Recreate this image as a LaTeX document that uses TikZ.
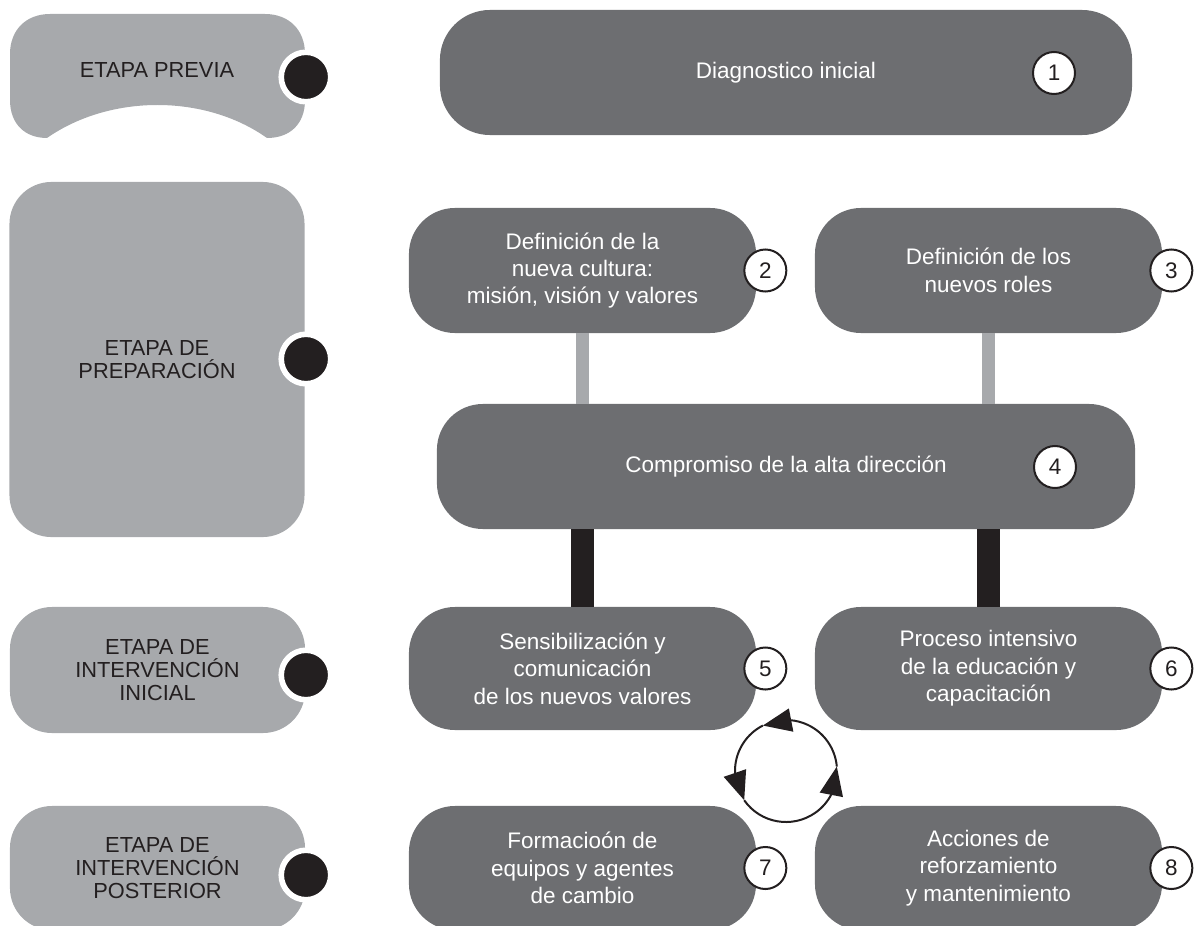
\documentclass[tikz,border=0pt]{standalone}
\usepackage{fontspec}
\setmainfont{Liberation Sans}
\usetikzlibrary{positioning,calc,arrows.meta,bending}
\definecolor{stagegray}{HTML}{A7A9AC}
\definecolor{stepgray}{HTML}{6D6E71}
\definecolor{ink}{HTML}{231F20}

\begin{document}
\begin{tikzpicture}[
	x=0.025cm, y=-0.025cm,
	stage box/.style={fill=stagegray, rounded corners=1.05cm, minimum width=7.375cm,
		align=center, text=ink, inner sep=0pt, font=\fontsize{15.5}{16.5}\selectfont},
	step box/.style={fill=stepgray, rounded corners=1.15cm, minimum width=8.675cm,
		minimum height=3.125cm, align=center, text=white, inner sep=0pt,
		font=\fontsize{16}{19.5}\selectfont},
	step number/.style={circle, draw=ink, line width=0.05cm, fill=white, text=ink,
		minimum size=1.05cm, inner sep=0pt, font=\fontsize{16}{16}\selectfont},
	stage dot/.style={circle, draw=white, line width=0.14cm, fill=ink,
		minimum size=1.2375cm, inner sep=0pt},
	soft link/.style={stagegray, line width=0.325cm},
	hard link/.style={ink, line width=0.575cm},
	cycle arrow/.style={ink, line width=0.05cm, -{Triangle[length=0.72cm, width=0.58cm]}}
	]
	\useasboundingbox (0,0) rectangle (1196,926);
	% stages
	\fill[stagegray] (10,54) .. controls (10,30) and (26,14) .. (50,14) -- (265,14)
		.. controls (289,14) and (305,30) .. (305,54) -- (305,100)
		.. controls (305,124) and (290,138) .. (267,138)
		.. controls (205,94) and (110,94) .. (47,138)
		.. controls (25,138) and (10,124) .. (10,100) -- cycle;
	\node[stage box, fill=none] (st1) at (157,70) {ETAPA PREVIA};
	\node[stage box, minimum height=8.875cm] (st2) at (157,359.5) {ETAPA DE\\PREPARACIÓN};
	\node[stage box, minimum height=3.15cm] (st3) at (157.5,670) {ETAPA DE\\INTERVENCIÓN\\INICIAL};
	\node[stage box, minimum height=3.1cm] (st4) at (157.5,868) {ETAPA DE\\INTERVENCIÓN\\POSTERIOR};
	\node[stage dot] (d1) at (306,77) {};
	\node[stage dot] (d2) at (306,359) {};
	\node[stage dot] (d3) at (306,675) {};
	\node[stage dot] (d4) at (306,875) {};
	% links
	\node[step box, minimum width=8.675cm] (b2) at (582.5,270.5) {Definición de la\\nueva cultura:\\misión, visión y valores};
	\node[step box] (b3) at (988.5,270.5) {Definición de los\\nuevos roles};
	\node[step box, minimum width=17.45cm] (b4) at (786,466.5) {Compromiso de la alta dirección};
	\node[step box, minimum height=3.075cm] (b5) at (582.5,668.5) {Sensibilización y\\comunicación\\de los nuevos valores};
	\node[step box, minimum height=3.075cm] (b6) at (988.5,668.5) {Proceso intensivo\\de la educación y\\capacitación};
	\draw[soft link] (b2.south) -- (b2.south |- b4.north);
	\draw[soft link] (b3.south) -- (b3.south |- b4.north);
	\draw[hard link] (b5.north |- b4.south) -- (b5.north);
	\draw[hard link] (b6.north |- b4.south) -- (b6.north);
	% steps
	\node[step box, minimum width=17.3cm, rounded corners=1.25cm] (b1) at (786,72.5) {Diagnostico inicial};
	\node[step box, minimum height=3.1cm] (b7) at (582.5,868) {Formacioón de\\equipos y agentes\\de cambio};
	\node[step box, minimum height=3.1cm] (b8) at (988.5,868) {Acciones de\\reforzamiento\\y mantenimiento};
	\node[step number] (n1) at (1054,73) {1};
	\node[step number] (n2) at ([xshift=0.225cm]b2.east) {2};
	\node[step number] (n3) at ([xshift=0.225cm]b3.east) {3};
	\node[step number] (n4) at (1055,467) {4};
	\node[step number] (n5) at ([xshift=0.225cm]b5.east) {5};
	\node[step number] (n6) at ([xshift=0.225cm]b6.east) {6};
	\node[step number] (n7) at ([xshift=0.225cm]b7.east) {7};
	\node[step number] (n8) at ([xshift=0.225cm]b8.east) {8};
	% cycle
	\coordinate (cyc) at (786,771);
	\draw[cycle arrow] ([shift={(-145:1.275cm)}]cyc) arc[start angle=-145, end angle=5, radius=1.275cm];
	\draw[cycle arrow] ([shift={(5:1.275cm)}]cyc) arc[start angle=5, end angle=117, radius=1.275cm];
	\draw[cycle arrow] ([shift={(117:1.275cm)}]cyc) arc[start angle=117, end angle=215, radius=1.275cm];
\end{tikzpicture}
\end{document}
